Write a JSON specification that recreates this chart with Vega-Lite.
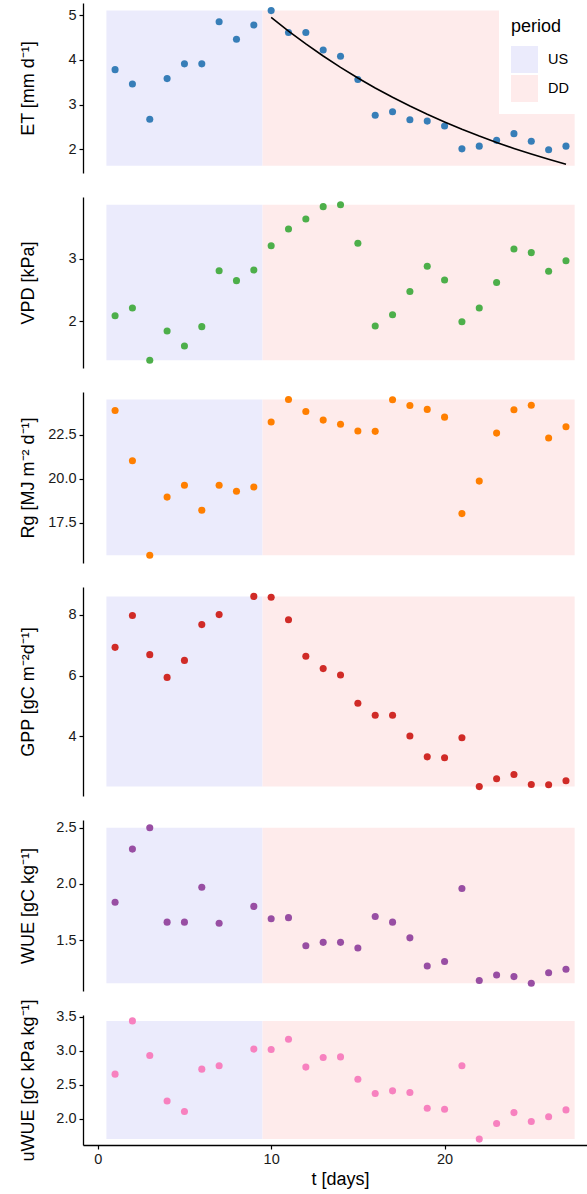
{
  "$schema": "https://vega.github.io/schema/vega-lite/v6.json",
  "padding": {"left": 18, "top": 3, "right": 0, "bottom": 0},
  "spacing": 24,
  "bounds": "flush",
  "config": {
    "view": {"stroke": null},
    "font": "Liberation Sans",
    "axis": {
      "grid": false,
      "domainColor": "black",
      "domainWidth": 1.3,
      "tickColor": "black",
      "tickWidth": 1.2,
      "tickSize": 4,
      "labelFont": "Liberation Sans",
      "labelFontSize": 14.5,
      "labelColor": "#1a1a1a",
      "labelPadding": 3,
      "titleFont": "Liberation Sans",
      "titleFontSize": 18,
      "titleFontWeight": "normal",
      "titleColor": "black"
    },
    "axisLeft": {"titleX": -55, "titleBaseline": "middle"}
  },
  "resolve": {"scale": {"color": "independent"}},
  "datasets": {
    "obs": [
      {"t": 1, "ET": 3.78, "VPD": 2.085, "Rg": 23.88, "GPP": 6.93, "WUE": 1.837, "uWUE": 2.656},
      {"t": 2, "ET": 3.46, "VPD": 2.21, "Rg": 21.02, "GPP": 7.98, "WUE": 2.31, "uWUE": 3.44},
      {"t": 3, "ET": 2.67, "VPD": 1.37, "Rg": 15.64, "GPP": 6.69, "WUE": 2.5, "uWUE": 2.93},
      {"t": 4, "ET": 3.58, "VPD": 1.84, "Rg": 18.95, "GPP": 5.94, "WUE": 1.66, "uWUE": 2.26},
      {"t": 5, "ET": 3.91, "VPD": 1.6, "Rg": 19.62, "GPP": 6.5, "WUE": 1.66, "uWUE": 2.105},
      {"t": 6, "ET": 3.91, "VPD": 1.91, "Rg": 18.2, "GPP": 7.68, "WUE": 1.97, "uWUE": 2.73},
      {"t": 7, "ET": 4.85, "VPD": 2.81, "Rg": 19.62, "GPP": 8.01, "WUE": 1.65, "uWUE": 2.78},
      {"t": 8, "ET": 4.46, "VPD": 2.65, "Rg": 19.28, "GPP": null, "WUE": null, "uWUE": null},
      {"t": 9, "ET": 4.78, "VPD": 2.82, "Rg": 19.52, "GPP": 8.61, "WUE": 1.8, "uWUE": 3.025},
      {"t": 10, "ET": 5.1, "VPD": 3.21, "Rg": 23.22, "GPP": 8.58, "WUE": 1.69, "uWUE": 3.02},
      {"t": 11, "ET": 4.61, "VPD": 3.48, "Rg": 24.5, "GPP": 7.84, "WUE": 1.7, "uWUE": 3.17},
      {"t": 12, "ET": 4.61, "VPD": 3.64, "Rg": 23.82, "GPP": 6.64, "WUE": 1.45, "uWUE": 2.76},
      {"t": 13, "ET": 4.22, "VPD": 3.84, "Rg": 23.33, "GPP": 6.23, "WUE": 1.48, "uWUE": 2.9},
      {"t": 14, "ET": 4.08, "VPD": 3.87, "Rg": 23.09, "GPP": 6.02, "WUE": 1.48, "uWUE": 2.91},
      {"t": 15, "ET": 3.56, "VPD": 3.25, "Rg": 22.71, "GPP": 5.09, "WUE": 1.43, "uWUE": 2.58},
      {"t": 16, "ET": 2.76, "VPD": 1.92, "Rg": 22.69, "GPP": 4.69, "WUE": 1.71, "uWUE": 2.37},
      {"t": 17, "ET": 2.84, "VPD": 2.1, "Rg": 24.49, "GPP": 4.69, "WUE": 1.66, "uWUE": 2.41},
      {"t": 18, "ET": 2.66, "VPD": 2.475, "Rg": 24.16, "GPP": 4.01, "WUE": 1.52, "uWUE": 2.385},
      {"t": 19, "ET": 2.63, "VPD": 2.88, "Rg": 23.94, "GPP": 3.32, "WUE": 1.27, "uWUE": 2.155},
      {"t": 20, "ET": 2.52, "VPD": 2.66, "Rg": 23.5, "GPP": 3.29, "WUE": 1.31, "uWUE": 2.14},
      {"t": 21, "ET": 2.01, "VPD": 1.99, "Rg": 18.01, "GPP": 3.95, "WUE": 1.96, "uWUE": 2.78},
      {"t": 22, "ET": 2.07, "VPD": 2.21, "Rg": 19.86, "GPP": 2.34, "WUE": 1.14, "uWUE": 1.7},
      {"t": 23, "ET": 2.2, "VPD": 2.62, "Rg": 22.59, "GPP": 2.6, "WUE": 1.19, "uWUE": 1.93},
      {"t": 24, "ET": 2.35, "VPD": 3.16, "Rg": 23.92, "GPP": 2.74, "WUE": 1.175, "uWUE": 2.09},
      {"t": 25, "ET": 2.18, "VPD": 3.1, "Rg": 24.18, "GPP": 2.41, "WUE": 1.116, "uWUE": 1.96},
      {"t": 26, "ET": 1.99, "VPD": 2.8, "Rg": 22.31, "GPP": 2.4, "WUE": 1.21, "uWUE": 2.03},
      {"t": 27, "ET": 2.07, "VPD": 2.97, "Rg": 22.95, "GPP": 2.53, "WUE": 1.24, "uWUE": 2.13}
    ],
    "fit": [
      {"t": 10, "ET_fit": 4.95}, {"t": 11, "ET_fit": 4.643}, {"t": 12, "ET_fit": 4.355},
      {"t": 13, "ET_fit": 4.085}, {"t": 14, "ET_fit": 3.832}, {"t": 15, "ET_fit": 3.594},
      {"t": 16, "ET_fit": 3.371}, {"t": 17, "ET_fit": 3.162}, {"t": 18, "ET_fit": 2.966},
      {"t": 19, "ET_fit": 2.782}, {"t": 20, "ET_fit": 2.61}, {"t": 21, "ET_fit": 2.448},
      {"t": 22, "ET_fit": 2.296}, {"t": 23, "ET_fit": 2.154}, {"t": 24, "ET_fit": 2.02},
      {"t": 25, "ET_fit": 1.895}, {"t": 26, "ET_fit": 1.777}, {"t": 27, "ET_fit": 1.667}
    ],
    "bands": [
      {"panel": "ET", "period": "US", "start": 0.5, "end": 9.5, "lo": 1.63, "hi": 5.1},
      {"panel": "ET", "period": "DD", "start": 9.5, "end": 27.5, "lo": 1.63, "hi": 5.1},
      {"panel": "VPD", "period": "US", "start": 0.5, "end": 9.5, "lo": 1.37, "hi": 3.87},
      {"panel": "VPD", "period": "DD", "start": 9.5, "end": 27.5, "lo": 1.37, "hi": 3.87},
      {"panel": "Rg", "period": "US", "start": 0.5, "end": 9.5, "lo": 15.64, "hi": 24.5},
      {"panel": "Rg", "period": "DD", "start": 9.5, "end": 27.5, "lo": 15.64, "hi": 24.5},
      {"panel": "GPP", "period": "US", "start": 0.5, "end": 9.5, "lo": 2.34, "hi": 8.61},
      {"panel": "GPP", "period": "DD", "start": 9.5, "end": 27.5, "lo": 2.34, "hi": 8.61},
      {"panel": "WUE", "period": "US", "start": 0.5, "end": 9.5, "lo": 1.116, "hi": 2.5},
      {"panel": "WUE", "period": "DD", "start": 9.5, "end": 27.5, "lo": 1.116, "hi": 2.5},
      {"panel": "uWUE", "period": "US", "start": 0.5, "end": 9.5, "lo": 1.7, "hi": 3.44},
      {"panel": "uWUE", "period": "DD", "start": 9.5, "end": 27.5, "lo": 1.7, "hi": 3.44}
    ]
  },
  "vconcat": [
    {
      "width": 505, "height": 170,
      "layer": [
        {
          "data": {"name": "bands"},
          "transform": [{"filter": "datum.panel === 'ET'"}],
          "mark": {"type": "rect", "strokeWidth": 0},
          "encoding": {
            "x": {"field": "start", "type": "quantitative", "scale": {"domain": [-0.85, 28.27], "nice": false, "zero": false}, "axis": null},
            "x2": {"field": "end"},
            "y": {"field": "lo", "type": "quantitative", "scale": {"domain": [1.47, 5.27], "nice": false, "zero": false},
                  "axis": {"title": "ET [mm d⁻¹]", "values": [2, 3, 4, 5], "format": "d"}},
            "y2": {"field": "hi"},
            "color": {"field": "period", "type": "nominal", "scale": {"domain": ["US", "DD"], "range": ["#EBEBFC", "#FEEBEB"]},
                      "legend": {"orient": "none", "legendX": 416, "legendY": 3, "title": "period", "titleFontSize": 18, "titleFont": "Liberation Sans", "titleFontWeight": "normal", "titleColor": "black", "labelFontSize": 14.5, "labelFont": "Liberation Sans", "labelColor": "black", "symbolType": "square", "symbolSize": 729, "symbolStrokeWidth": 0, "fillColor": "white", "padding": 12, "rowPadding": 2, "labelOffset": 10, "titlePadding": 10}}
          }
        },
        {
          "data": {"name": "obs"},
          "mark": {"type": "circle", "size": 50, "opacity": 1, "color": "#377EB8"},
          "encoding": {
            "x": {"field": "t", "type": "quantitative"},
            "y": {"field": "ET", "type": "quantitative"}
          }
        },
        {
          "data": {"name": "fit"},
          "mark": {"type": "line", "color": "black", "strokeWidth": 1.6},
          "encoding": {
            "x": {"field": "t", "type": "quantitative"},
            "y": {"field": "ET_fit", "type": "quantitative"}
          }
        }
      ]
    },
    {
      "width": 505, "height": 171,
      "layer": [
        {
          "data": {"name": "bands"},
          "transform": [{"filter": "datum.panel === 'VPD'"}],
          "mark": {"type": "rect", "strokeWidth": 0},
          "encoding": {
            "x": {"field": "start", "type": "quantitative", "scale": {"domain": [-0.85, 28.27], "nice": false, "zero": false}, "axis": null},
            "x2": {"field": "end"},
            "y": {"field": "lo", "type": "quantitative", "scale": {"domain": [1.245, 3.995], "nice": false, "zero": false},
                  "axis": {"title": "VPD [kPa]", "values": [2, 3], "format": "d"}},
            "y2": {"field": "hi"},
            "color": {"field": "period", "type": "nominal", "scale": {"domain": ["US", "DD"], "range": ["#EBEBFC", "#FEEBEB"]}, "legend": null}
          }
        },
        {
          "data": {"name": "obs"},
          "mark": {"type": "circle", "size": 50, "opacity": 1, "color": "#4DAF4A"},
          "encoding": {
            "x": {"field": "t", "type": "quantitative"},
            "y": {"field": "VPD", "type": "quantitative"}
          }
        }
      ]
    },
    {
      "width": 505, "height": 171,
      "layer": [
        {
          "data": {"name": "bands"},
          "transform": [{"filter": "datum.panel === 'Rg'"}],
          "mark": {"type": "rect", "strokeWidth": 0},
          "encoding": {
            "x": {"field": "start", "type": "quantitative", "scale": {"domain": [-0.85, 28.27], "nice": false, "zero": false}, "axis": null},
            "x2": {"field": "end"},
            "y": {"field": "lo", "type": "quantitative", "scale": {"domain": [15.2, 24.93], "nice": false, "zero": false},
                  "axis": {"title": "Rg [MJ m⁻² d⁻¹]", "values": [17.5, 20, 22.5], "format": ".1f"}},
            "y2": {"field": "hi"},
            "color": {"field": "period", "type": "nominal", "scale": {"domain": ["US", "DD"], "range": ["#EBEBFC", "#FEEBEB"]}, "legend": null}
          }
        },
        {
          "data": {"name": "obs"},
          "mark": {"type": "circle", "size": 50, "opacity": 1, "color": "#FF7F00"},
          "encoding": {
            "x": {"field": "t", "type": "quantitative"},
            "y": {"field": "Rg", "type": "quantitative"}
          }
        }
      ]
    },
    {
      "width": 505, "height": 209,
      "layer": [
        {
          "data": {"name": "bands"},
          "transform": [{"filter": "datum.panel === 'GPP'"}],
          "mark": {"type": "rect", "strokeWidth": 0},
          "encoding": {
            "x": {"field": "start", "type": "quantitative", "scale": {"domain": [-0.85, 28.27], "nice": false, "zero": false}, "axis": null},
            "x2": {"field": "end"},
            "y": {"field": "lo", "type": "quantitative", "scale": {"domain": [2.03, 8.92], "nice": false, "zero": false},
                  "axis": {"title": "GPP [gC m⁻²d⁻¹]", "values": [4, 6, 8], "format": "d"}},
            "y2": {"field": "hi"},
            "color": {"field": "period", "type": "nominal", "scale": {"domain": ["US", "DD"], "range": ["#EBEBFC", "#FEEBEB"]}, "legend": null}
          }
        },
        {
          "data": {"name": "obs"},
          "mark": {"type": "circle", "size": 50, "opacity": 1, "color": "#D02B27"},
          "encoding": {
            "x": {"field": "t", "type": "quantitative"},
            "y": {"field": "GPP", "type": "quantitative"}
          }
        }
      ]
    },
    {
      "width": 505, "height": 171,
      "layer": [
        {
          "data": {"name": "bands"},
          "transform": [{"filter": "datum.panel === 'WUE'"}],
          "mark": {"type": "rect", "strokeWidth": 0},
          "encoding": {
            "x": {"field": "start", "type": "quantitative", "scale": {"domain": [-0.85, 28.27], "nice": false, "zero": false}, "axis": null},
            "x2": {"field": "end"},
            "y": {"field": "lo", "type": "quantitative", "scale": {"domain": [1.047, 2.569], "nice": false, "zero": false},
                  "axis": {"title": "WUE [gC kg⁻¹]", "values": [1.5, 2, 2.5], "format": ".1f"}},
            "y2": {"field": "hi"},
            "color": {"field": "period", "type": "nominal", "scale": {"domain": ["US", "DD"], "range": ["#EBEBFC", "#FEEBEB"]}, "legend": null}
          }
        },
        {
          "data": {"name": "obs"},
          "mark": {"type": "circle", "size": 50, "opacity": 1, "color": "#984EA3"},
          "encoding": {
            "x": {"field": "t", "type": "quantitative"},
            "y": {"field": "WUE", "type": "quantitative"}
          }
        }
      ]
    },
    {
      "width": 505, "height": 130,
      "layer": [
        {
          "data": {"name": "bands"},
          "transform": [{"filter": "datum.panel === 'uWUE'"}],
          "mark": {"type": "rect", "strokeWidth": 0},
          "encoding": {
            "x": {"field": "start", "type": "quantitative", "scale": {"domain": [-0.85, 28.27], "nice": false, "zero": false},
                  "axis": {"title": "t [days]", "values": [0, 10, 20], "format": "d", "titleX": 257, "titlePadding": 5}},
            "x2": {"field": "end"},
            "y": {"field": "lo", "type": "quantitative", "scale": {"domain": [1.613, 3.527], "nice": false, "zero": false},
                  "axis": {"title": "uWUE [gC kPa kg⁻¹]", "values": [2, 2.5, 3, 3.5], "format": ".1f"}},
            "y2": {"field": "hi"},
            "color": {"field": "period", "type": "nominal", "scale": {"domain": ["US", "DD"], "range": ["#EBEBFC", "#FEEBEB"]}, "legend": null}
          }
        },
        {
          "data": {"name": "obs"},
          "mark": {"type": "circle", "size": 50, "opacity": 1, "color": "#F781BF"},
          "encoding": {
            "x": {"field": "t", "type": "quantitative"},
            "y": {"field": "uWUE", "type": "quantitative"}
          }
        }
      ]
    }
  ]
}
